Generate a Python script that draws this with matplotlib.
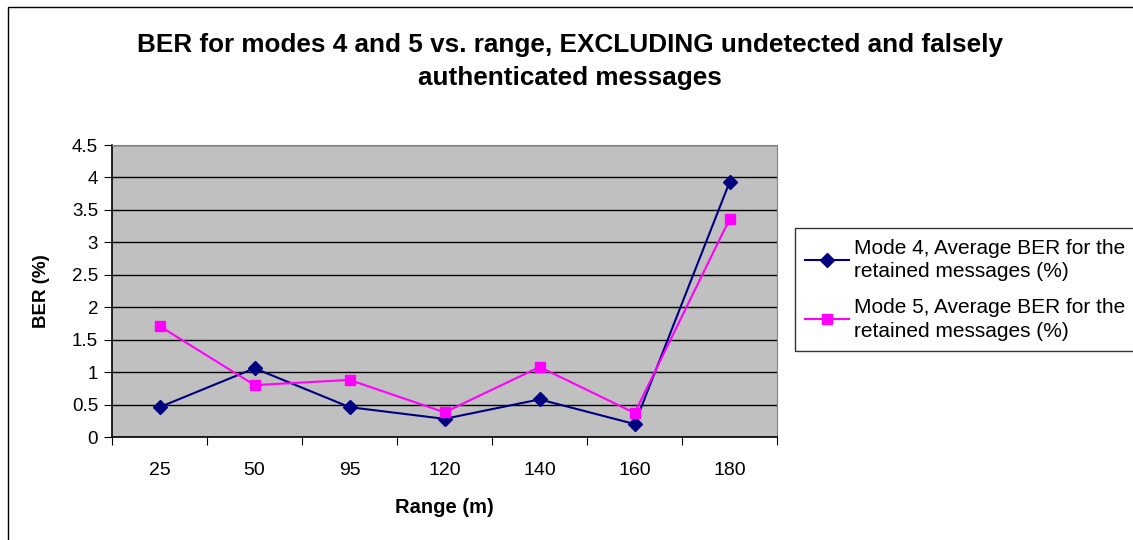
import numpy as np
import matplotlib.pyplot as plt
from matplotlib.patches import Rectangle

plt.rcParams['font.family'] = ['Liberation Sans', 'DejaVu Sans']

# Data
ranges = ['25', '50', '95', '120', '140', '160', '180']
mode4_ber = [0.46, 1.06, 0.46, 0.28, 0.58, 0.20, 3.93]
mode5_ber = [1.71, 0.80, 0.88, 0.38, 1.08, 0.37, 3.36]
labels = ['Mode 4, Average BER for the\nretained messages (%)',
          'Mode 5, Average BER for the\nretained messages (%)']

fig = plt.figure(figsize=(11.33, 5.4), dpi=100)
fig.patch.set_facecolor('white')
# outer chart border
fig.patches.append(Rectangle((0.007, -0.01), 1.2, 0.997, transform=fig.transFigure,
                             fill=False, edgecolor='black', lw=1.0))

ax = fig.add_axes([0.0989, 0.1907, 0.587, 0.5407])
ax.set_facecolor('#C0C0C0')

x = np.arange(len(ranges))
ax.plot(x, mode4_ber, color='#000080', marker='D', markersize=7, lw=1.5,
        label=labels[0])
ax.plot(x, mode5_ber, color='#FF00FF', marker='s', markersize=7, lw=1.5,
        label=labels[1])

ax.set_xlim(-0.5, len(ranges) - 0.5)
ax.set_ylim(0, 4.5)
ax.set_yticks(np.arange(0, 4.51, 0.5))
ax.set_yticklabels(['0', '0.5', '1', '1.5', '2', '2.5', '3', '3.5', '4', '4.5'])
ax.yaxis.grid(True, color='black', lw=1)
ax.set_axisbelow(True)

# category axis: ticks between categories, labels centred
ax.set_xticks(np.arange(-0.5, len(ranges), 1.0))
ax.set_xticklabels([])
ax.set_xticks(x, minor=True)
ax.set_xticklabels(ranges, minor=True)
ax.tick_params(axis='x', which='minor', length=0, pad=18, labelsize=14)
ax.tick_params(axis='x', which='major', length=6, direction='out', color='black')
ax.tick_params(axis='y', length=6, direction='out', labelsize=13.5, pad=4)

for s in ['top', 'right']:
    ax.spines[s].set_color('#808080')
for s in ['left', 'bottom']:
    ax.spines[s].set_color('black')
    ax.spines[s].set_linewidth(1.2)

ax.set_xlabel('Range (m)', fontsize=14.5, fontweight='bold', labelpad=14)
ax.set_ylabel('BER (%)', fontsize=13.5, fontweight='bold', labelpad=16)

fig.text(0.503, 0.917, 'BER for modes 4 and 5 vs. range, EXCLUDING undetected and falsely',
         ha='center', va='center', fontsize=18.8, fontweight='bold')
fig.text(0.503, 0.856, 'authenticated messages',
         ha='center', va='center', fontsize=18.8, fontweight='bold')

leg = fig.legend(loc='upper left', bbox_to_anchor=(0.7015, 0.577), fontsize=15,
                 frameon=True, fancybox=False, edgecolor='black',
                 handlelength=2.1, borderpad=0.5, labelspacing=0.8,
                 handletextpad=0.25, borderaxespad=0)
leg.get_frame().set_linewidth(1.0)
for t in leg.get_texts():
    t.set_linespacing(1.3)

fig.savefig('out.png', dpi=100)
